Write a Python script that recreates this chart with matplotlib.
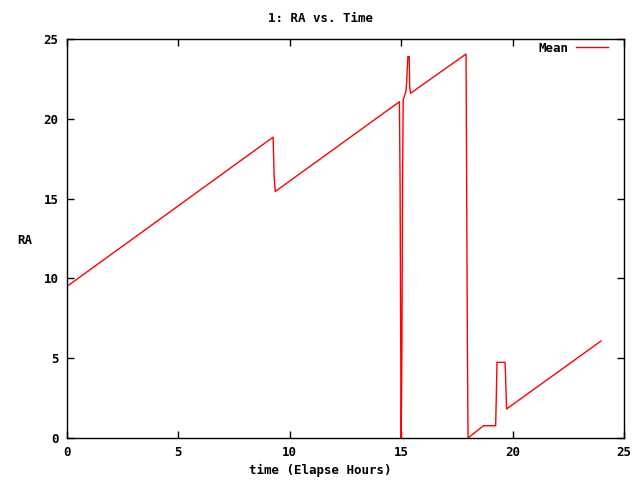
import matplotlib
matplotlib.use("Agg")
import matplotlib.pyplot as plt

# elapsed hours vs. mean RA
time_h = [0.0, 9.25, 9.30, 9.35,
          14.92, 14.95, 14.98, 15.00, 15.03, 15.06, 15.09, 15.21, 15.24,
          15.30, 15.36, 15.38, 15.42,
          17.91, 17.93, 17.97, 18.00, 18.69, 19.24, 19.30, 19.66, 19.68,
          19.73, 23.97]
ra_mean = [9.5, 18.85, 16.3, 15.45,
           21.07, 15.85, 5.3, 0.0, 5.3, 15.85, 21.2, 21.7, 22.2,
           23.9, 23.9, 22.0, 21.6,
           24.06, 18.05, 6.0, 0.0, 0.77, 0.77, 4.74, 4.74, 4.05,
           1.82, 6.08]

xticks = [0, 5, 10, 15, 20, 25]
yticks = [0, 5, 10, 15, 20, 25]

plt.rcParams["font.family"] = ["DejaVu Sans Mono"]
plt.rcParams["font.weight"] = "bold"
plt.rcParams["font.size"] = 9

fig = plt.figure(figsize=(6.4, 4.8), dpi=100)
ax = fig.add_axes([67 / 640, 42 / 480, 557 / 640, 399 / 480])

ax.plot(time_h, ra_mean, color="red", lw=1.0, label="Mean")

ax.set_xlim(0, 25)
ax.set_ylim(0, 25)
ax.set_xticks(xticks)
ax.set_yticks(yticks)
ax.tick_params(direction="in", length=5, width=1, top=True, right=True,
               pad=6, labelsize=9)
for s in ax.spines.values():
    s.set_linewidth(1)

fig.text(0.5, 1 - 18 / 480, "1: RA vs. Time", ha="center", va="center",
         fontsize=9, fontweight="bold")
fig.text(0.5, 1 - 470 / 480, "time (Elapse Hours)", ha="center", va="center",
         fontsize=9, fontweight="bold")
fig.text(25 / 640, 1 - 240 / 480, "RA", ha="center", va="center",
         fontsize=9, fontweight="bold")

ax.legend(loc="center right", frameon=False, markerfirst=False,
          handlelength=2.55, handletextpad=0.64, borderpad=0,
          borderaxespad=0, bbox_to_anchor=(608 / 640, 1 - 48 / 480),
          bbox_transform=fig.transFigure, fontsize=9)

fig.savefig("out.png", dpi=100)
